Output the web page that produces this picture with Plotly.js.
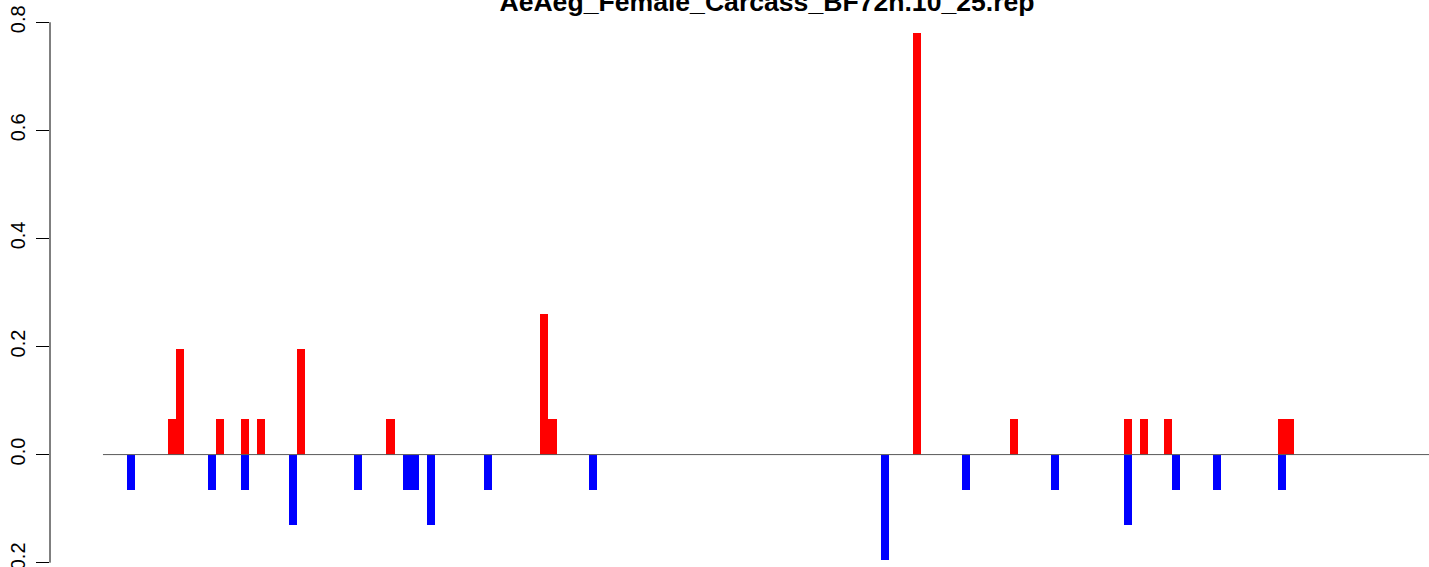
<!DOCTYPE html>
<html>
<head>
<meta charset="utf-8">
<script src="https://cdn.plot.ly/plotly-3.0.1.min.js"></script>
<style>
  html, body { margin: 0; padding: 0; background: #fff; }
  #chart { width: 1429px; height: 567px; }
</style>
</head>
<body>
<div id="chart"></div>
<script>
// ---- Data (bar index along the sequence, value) ----
const chartTitle = "AeAeg_Female_Carcass_BF72h.10_25.rep";
const nPositions = 164;

const redPos = [8, 9, 14, 17, 19, 24, 35, 54, 55, 100, 112, 126, 128, 131, 145, 146];
const redVal = [0.065, 0.195, 0.065, 0.065, 0.065, 0.195, 0.065, 0.26, 0.065, 0.78, 0.065, 0.065, 0.065, 0.065, 0.065, 0.065];

const bluePos = [3, 13, 17, 23, 31, 37, 38, 40, 47, 60, 96, 106, 117, 126, 132, 137, 145];
const blueVal = [-0.065, -0.065, -0.065, -0.13, -0.065, -0.065, -0.065, -0.13, -0.065, -0.065, -0.195, -0.065, -0.065, -0.13, -0.065, -0.065, -0.065];

const yTickVals = [-0.2, 0.0, 0.2, 0.4, 0.6, 0.8];
const yTickText = ["-0.2", "0.0", "0.2", "0.4", "0.6", "0.8"];

// ---- Traces ----
const centers = arr => arr.map(p => p + 0.5);

const traces = [
  {
    type: "bar",
    x: centers(redPos),
    y: redVal,
    width: 1,
    marker: { color: "#ff0000", line: { width: 0 } },
    hoverinfo: "x+y",
    showlegend: false
  },
  {
    type: "bar",
    x: centers(bluePos),
    y: blueVal,
    width: 1,
    marker: { color: "#0000ff", line: { width: 0 } },
    hoverinfo: "x+y",
    showlegend: false
  }
];

const layout = {
  width: 1429,
  height: 567,
  margin: { l: 50, r: 0, t: 0, b: 0, pad: 0 },
  paper_bgcolor: "#ffffff",
  plot_bgcolor: "#ffffff",
  barmode: "overlay",
  bargap: 0,
  showlegend: false,
  font: { family: "Liberation Sans, Arial, sans-serif", color: "#000" },
  title: {
    text: chartTitle,
    font: { family: "Liberation Sans, Arial, sans-serif", size: 26.6, weight: "bold", color: "#000" },
    x: 767 / 1429,
    xref: "container",
    xanchor: "center",
    y: 1 - 11 / 567,
    yref: "container",
    yanchor: "bottom"
  },
  xaxis: {
    range: [-6.54, 163.7],
    showgrid: false,
    zeroline: false,
    showline: false,
    showticklabels: false,
    ticks: "",
    fixedrange: true
  },
  yaxis: {
    range: [-0.208, 0.8412],
    showgrid: false,
    zeroline: false,
    showline: false,
    tickmode: "array",
    tickvals: yTickVals,
    ticktext: yTickText,
    ticks: "outside",
    ticklen: 13,
    tickwidth: 1,
    tickcolor: "#000",
    tickangle: -90,
    ticklabeloverflow: "allow",
    ticklabelstandoff: 3,
    tickfont: { family: "Liberation Sans, Arial, sans-serif", size: 20, color: "#000" },
    fixedrange: true
  },
  shapes: [
    {
      type: "line", xref: "x", yref: "y",
      x0: 0, x1: nPositions, y0: 0, y1: 0,
      line: { color: "#5a5a5a", width: 1 },
      layer: "above"
    },
    {
      type: "line", xref: "paper", yref: "y",
      x0: 0, x1: 0, y0: yTickVals[0], y1: yTickVals[yTickVals.length - 1],
      line: { color: "#000", width: 1 },
      layer: "above"
    }
  ]
};

Plotly.newPlot("chart", traces, layout, { displayModeBar: false, staticPlot: true });
</script>
</body>
</html>
